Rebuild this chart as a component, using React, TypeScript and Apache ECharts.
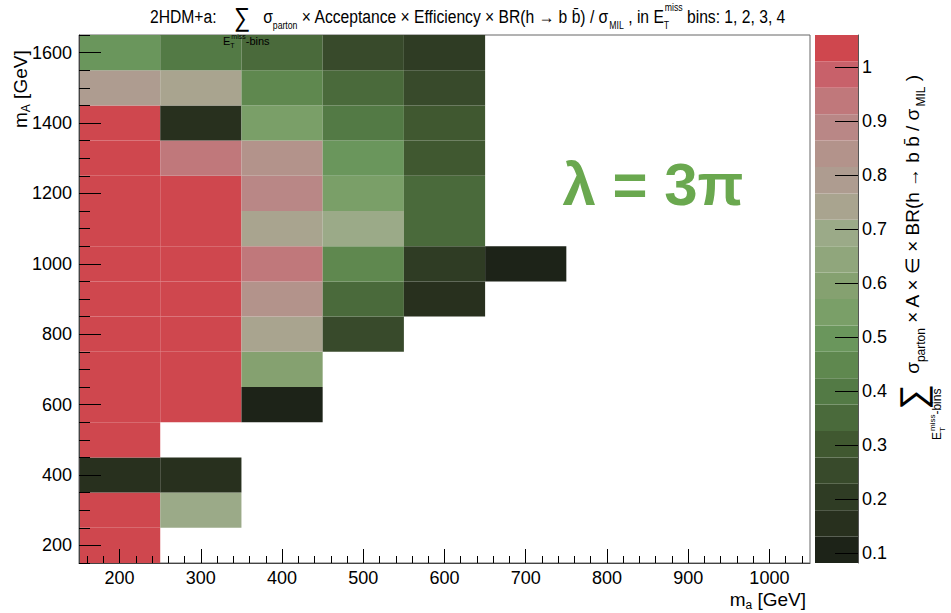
import React, { useEffect, useRef } from 'react';
import * as echarts from 'echarts';

// ---- data ----
const maValues = [200, 300, 400, 500, 600, 700];
const mAValues = [200, 300, 400, 500, 600, 700, 800, 900, 1000, 1100, 1200, 1300, 1400, 1500, 1600];
// ratio per m_a column, rows follow mAValues; null = no point
const ratioMa200 = [1.04, 1.04, 0.15, 1.04, 1.04, 1.04, 1.04, 1.04, 1.04, 1.04, 1.04, 1.04, 1.04, 0.79, 0.49];
const ratioMa300 = [null, 0.70, 0.15, null, 1.04, 1.04, 1.04, 1.04, 1.04, 1.04, 1.04, 0.93, 0.15, 0.74, 0.39];
const ratioMa400 = [null, null, null, null, 0.10, 0.59, 0.74, 0.84, 0.94, 0.74, 0.88, 0.83, 0.55, 0.44, 0.34];
const ratioMa500 = [null, null, null, null, null, null, 0.25, 0.35, 0.45, 0.69, 0.55, 0.50, 0.39, 0.34, 0.24];
const ratioMa600 = [null, null, null, null, null, null, null, 0.15, 0.19, 0.33, 0.34, 0.29, 0.29, 0.25, 0.20];
const ratioMa700 = [null, null, null, null, null, null, null, null, 0.10, null, null, null, null, null, null];
const ratioColumns = [ratioMa200, ratioMa300, ratioMa400, ratioMa500, ratioMa600, ratioMa700];

const xTickLabels = [200, 300, 400, 500, 600, 700, 800, 900, 1000];
const yTickLabels = [200, 400, 600, 800, 1000, 1200, 1400, 1600];
const zTickLabels = [0.1, 0.2, 0.3, 0.4, 0.5, 0.6, 0.7, 0.8, 0.9, 1];

// colour scale (20 contours, low -> high)
const zMin = 0.0815;
const zMax = 1.059;
const palette = [
  '#1d2318', '#28301e', '#2f3c24', '#384a2b', '#405830',
  '#4a6a3b', '#537a45', '#5f884f', '#6a965c', '#7a9f68',
  '#85a170', '#90a67c', '#9baa88', '#a9a48f', '#ae9c90',
  '#b3938b', '#b98786', '#c0787b', '#c8616a', '#cf474e',
];

const FONT = '"Liberation Sans", Arial, Helvetica, sans-serif';

export default function App() {
  const ref = useRef<HTMLDivElement>(null);
  useEffect(() => {
    if (!ref.current) return;
    const chart = echarts.init(ref.current, undefined, { renderer: 'svg' });

    const nC = palette.length;
    const step = (zMax - zMin) / nC;
    const zEdges = palette.map((_, k) => zMin + k * step).concat([zMax]);
    const pieces = palette.map((c, k) =>
      k === nC - 1 ? { gte: zEdges[k], color: c } : { gte: zEdges[k], lt: zEdges[k + 1], color: c }
    );

    const cells: number[][] = [];
    maValues.forEach((ma, i) => {
      ratioColumns[i].forEach((v, j) => {
        if (v !== null && v !== undefined) cells.push([ma, mAValues[j], v as number]);
      });
    });

    const xMinor: number[] = [];
    for (let v = 160; v <= 1040; v += 20) if (v % 100 !== 0) xMinor.push(v);
    const yMinor: number[] = [];
    for (let v = 150; v <= 1650; v += 50) if (v % 200 !== 0) yMinor.push(v);

    const black = { color: '#000', width: 1 };
    const plain = (v: number) => String(v);

    const option: any = {
      animation: false,
      backgroundColor: '#fff',
      grid: [
        { left: 79, right: 141, top: 35, bottom: 50, show: true, borderColor: '#666', borderWidth: 1, backgroundColor: '#fff' },
        { left: 815, right: 93, top: 35, bottom: 50 },
      ],
      xAxis: [
        {
          type: 'value', gridIndex: 0, position: 'bottom', min: 150, max: 1050, z: 10,
          axisLine: { show: true, onZero: false, lineStyle: { color: '#444', width: 1 } },
          axisTick: { show: true, inside: true, length: 14, customValues: xTickLabels, lineStyle: black },
          axisLabel: { customValues: xTickLabels, fontSize: 18, color: '#000', margin: 6, fontFamily: FONT, formatter: plain },
          splitLine: { show: false },
        },
        {
          type: 'value', gridIndex: 0, position: 'bottom', min: 150, max: 1050, z: 10,
          axisLine: { show: false, onZero: false },
          axisTick: { show: true, inside: true, length: 7, customValues: xMinor, lineStyle: black },
          axisLabel: { show: false },
          splitLine: { show: false },
        },
        { type: 'value', gridIndex: 1, min: 0, max: 1, show: false, axisLine: { onZero: false } },
      ],
      yAxis: [
        {
          type: 'value', gridIndex: 0, position: 'left', min: 150, max: 1650, z: 10,
          axisLine: { show: true, onZero: false, lineStyle: { color: '#444', width: 1 } },
          axisTick: { show: true, inside: true, length: 22, customValues: yTickLabels, lineStyle: black },
          axisLabel: { customValues: yTickLabels, fontSize: 18, color: '#000', margin: 7, fontFamily: FONT, formatter: plain },
          splitLine: { show: false },
        },
        {
          type: 'value', gridIndex: 0, position: 'left', min: 150, max: 1650, z: 10,
          axisLine: { show: false, onZero: false },
          axisTick: { show: true, inside: true, length: 11, customValues: yMinor, lineStyle: black },
          axisLabel: { show: false },
          splitLine: { show: false },
        },
        {
          type: 'value', gridIndex: 1, position: 'right', min: zMin, max: zMax, z: 10,
          axisLine: { show: true, onZero: false, lineStyle: { color: '#555', width: 1 } },
          axisTick: { show: true, inside: true, length: 23, customValues: zTickLabels, lineStyle: black },
          axisLabel: {
            customValues: zTickLabels, fontSize: 18, color: '#000', margin: 4, fontFamily: FONT,
            formatter: (v: number) => String(Math.round(v * 10) / 10),
          },
          splitLine: { show: false },
        },
      ],
      visualMap: { type: 'piecewise', show: false, seriesIndex: 0, dimension: 2, pieces },
      series: [
        {
          type: 'custom', xAxisIndex: 0, yAxisIndex: 0, clip: true,
          encode: { x: 0, y: 1 },
          data: cells,
          renderItem: (params: any, api: any) => {
            const x = api.value(0);
            const y = api.value(1);
            const p1 = api.coord([x - 50, y + 50]);
            const p2 = api.coord([x + 50, y - 50]);
            return {
              type: 'rect',
              shape: { x: p1[0], y: p1[1], width: p2[0] - p1[0], height: p2[1] - p1[1] },
              style: { fill: api.visual('color'), stroke: null },
            };
          },
        },
        {
          type: 'custom', xAxisIndex: 2, yAxisIndex: 2,
          data: palette.map((_, k) => [k]),
          renderItem: (params: any, api: any) => {
            const k = params.dataIndex;
            const p1 = api.coord([0, zEdges[k + 1]]);
            const p2 = api.coord([1, zEdges[k]]);
            return {
              type: 'rect',
              shape: { x: p1[0], y: p1[1], width: p2[0] - p1[0], height: p2[1] - p1[1] },
              style: { fill: palette[k] },
            };
          },
        },
      ],
      graphic: [
        {
          type: 'text', x: 150, y: 17, z: 100, scaleX: 0.87,
          style: {
            text: '{t|2HDM+a:}{t|    }{sum|∑}{t|   σ}{sub|parton}{t| × Acceptance × Efficiency × BR(h → b b̄) / σ}{sub|MIL}{t| , in E}{subz|T}{sup|miss}{t| bins: 1, 2, 3, 4}',
            align: 'left', verticalAlign: 'middle', fontFamily: FONT, fill: '#000',
            rich: {
              t: { fontSize: 18, lineHeight: 28, fontFamily: FONT, fill: '#000' },
              sum: { fontSize: 26, lineHeight: 28, fontFamily: FONT, fill: '#000' },
              sub: { fontSize: 10, lineHeight: 13, verticalAlign: 'bottom', fontFamily: FONT, fill: '#000' },
              subz: { fontSize: 10, lineHeight: 13, width: 1, verticalAlign: 'bottom', fontFamily: FONT, fill: '#000' },
              sup: { fontSize: 10, lineHeight: 13, verticalAlign: 'top', fontFamily: FONT, fill: '#000' },
            },
          },
        },
        {
          type: 'text', x: 223, y: 41, z: 100,
          style: {
            text: '{e|E}{z|T}{p|miss}{e|-bins}',
            align: 'left', verticalAlign: 'middle', fontFamily: FONT, fill: '#000',
            rich: {
              e: { fontSize: 11, lineHeight: 16, fontFamily: FONT, fill: '#000' },
              z: { fontSize: 7, lineHeight: 9, width: 1, verticalAlign: 'bottom', fontFamily: FONT, fill: '#000' },
              p: { fontSize: 7, lineHeight: 9, verticalAlign: 'top', fontFamily: FONT, fill: '#000' },
            },
          },
        },
        {
          type: 'text', x: 653, y: 184, z: 100,
          style: {
            text: 'λ = 3π', fontSize: 60, fontWeight: 'bold', fontFamily: FONT, fill: '#6aa84f',
            align: 'center', verticalAlign: 'middle',
          },
        },
        {
          type: 'text', x: 20, y: 128, z: 100, rotation: Math.PI / 2,
          style: {
            text: '{t|m}{sub|A}{t| [GeV]}', align: 'left', verticalAlign: 'middle', fontFamily: FONT, fill: '#000',
            rich: {
              t: { fontSize: 19, lineHeight: 24, fontFamily: FONT, fill: '#000' },
              sub: { fontSize: 12, lineHeight: 14, verticalAlign: 'bottom', fontFamily: FONT, fill: '#000' },
            },
          },
        },
        {
          type: 'text', x: 806, y: 599, z: 100,
          style: {
            text: '{t|m}{sub|a}{t| [GeV]}', align: 'right', verticalAlign: 'middle', fontFamily: FONT, fill: '#000',
            rich: {
              t: { fontSize: 19, lineHeight: 24, fontFamily: FONT, fill: '#000' },
              sub: { fontSize: 12, lineHeight: 14, verticalAlign: 'bottom', fontFamily: FONT, fill: '#000' },
            },
          },
        },
        {
          type: 'text', x: 912, y: 410, z: 100, rotation: Math.PI / 2,
          style: {
            text: '{sum|∑}{t|  σ}{sub|parton}{t| × A × ∈ × BR(h → b b̄ / σ}{sub|MIL}{t| )}',
            align: 'left', verticalAlign: 'middle', fontFamily: FONT, fill: '#000',
            rich: {
              t: { fontSize: 19, lineHeight: 30, fontFamily: FONT, fill: '#000' },
              sum: { fontSize: 36, lineHeight: 30, fontFamily: FONT, fill: '#000' },
              sub: { fontSize: 12, lineHeight: 16, verticalAlign: 'bottom', fontFamily: FONT, fill: '#000' },
            },
          },
        },
        {
          type: 'text', x: 937, y: 440, z: 100, rotation: Math.PI / 2,
          style: {
            text: '{e|E}{z|T}{p|miss}{e|-bins}',
            align: 'left', verticalAlign: 'middle', fontFamily: FONT, fill: '#000',
            rich: {
              e: { fontSize: 12, lineHeight: 18, fontFamily: FONT, fill: '#000' },
              z: { fontSize: 8, lineHeight: 10, width: 1, verticalAlign: 'bottom', fontFamily: FONT, fill: '#000' },
              p: { fontSize: 8, lineHeight: 10, verticalAlign: 'top', fontFamily: FONT, fill: '#000' },
            },
          },
        },
      ],
    };

    chart.setOption(option);
    return () => chart.dispose();
  }, []);

  return (
    <div
      ref={ref}
      style={{ position: 'absolute', left: 0, top: 0, width: 951, height: 613, background: '#fff' }}
    />
  );
}
